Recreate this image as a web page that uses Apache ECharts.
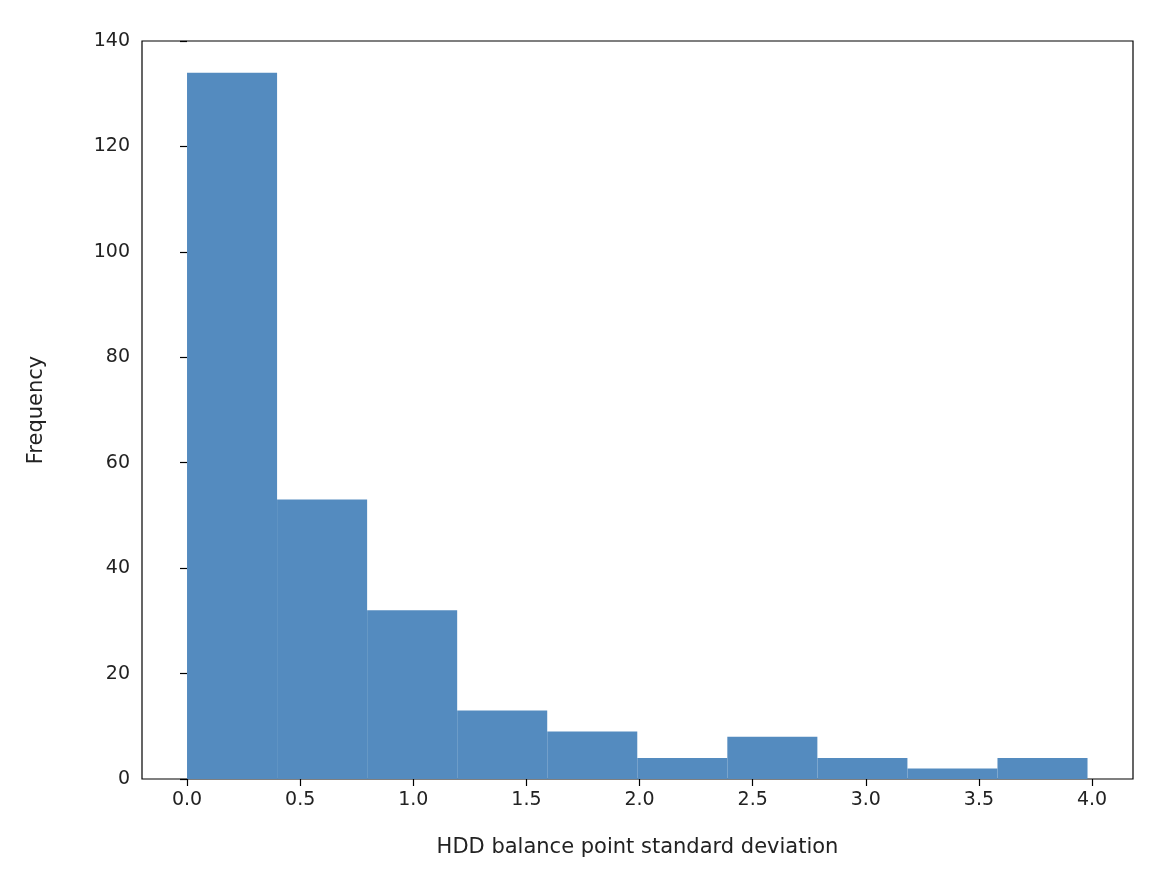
<!DOCTYPE html>
<html>
<head>
<meta charset="utf-8">
<script src="https://cdn.jsdelivr.net/npm/echarts@6/dist/echarts.min.js"></script>
<style>html,body{margin:0;background:#fff}#chart{width:1171px;height:886px}</style>
</head>
<body>
<div id="chart"></div>
<script>
// histogram bin edges and counts
let binEdges = [0.0, 0.398, 0.796, 1.194, 1.592, 1.99, 2.388, 2.786, 3.184, 3.582, 3.98];
let counts = [134, 53, 32, 13, 9, 4, 8, 4, 2, 4];
let xTicks = [0.0, 0.5, 1.0, 1.5, 2.0, 2.5, 3.0, 3.5, 4.0];

let data = counts.map(function (c, i) {
  return [binEdges[i], binEdges[i + 1], c];
});

let font = 'DejaVu Sans';
let option = {
  backgroundColor: '#fff',
  animation: false,
  grid: {left: 142, right: 38, top: 41, bottom: 107, show: true, borderColor: '#000', borderWidth: 1.2},
  xAxis: {
    type: 'value',
    min: -0.199,
    max: 4.181,
    name: 'HDD balance point standard deviation',
    nameLocation: 'middle',
    nameGap: 58,
    nameTextStyle: {color: '#222', fontSize: 21, fontFamily: font},
    axisLine: {show: false},
    splitLine: {show: false},
    axisTick: {show: true, customValues: xTicks, length: 7, lineStyle: {color: '#000', width: 1.2}},
    axisLabel: {
      customValues: xTicks, color: '#222', fontSize: 19, fontFamily: font, margin: 12,
      formatter: function (v) { return v.toFixed(1); }
    }
  },
  yAxis: {
    type: 'value',
    min: 0,
    max: 140,
    interval: 20,
    name: 'Frequency',
    nameLocation: 'middle',
    nameGap: 95,
    nameTextStyle: {color: '#222', fontSize: 21, fontFamily: font},
    axisLine: {show: false},
    splitLine: {show: false},
    axisTick: {show: true, length: 7, lineStyle: {color: '#000', width: 1.2}},
    axisLabel: {color: '#222', fontSize: 19, fontFamily: font, margin: 12}
  },
  series: [{
    type: 'custom',
    data: data,
    encode: {x: [0, 1], y: 2},
    renderItem: function (params, api) {
      let p0 = api.coord([api.value(0), api.value(2)]);
      let p1 = api.coord([api.value(1), 0]);
      return {
        type: 'rect',
        shape: {x: p0[0], y: p0[1], width: p1[0] - p0[0], height: p1[1] - p0[1]},
        style: {fill: '#548bbf'}
      };
    }
  }]
};
let myChart = echarts.init(document.getElementById('chart'));
myChart.setOption(option);
</script>
</body>
</html>
